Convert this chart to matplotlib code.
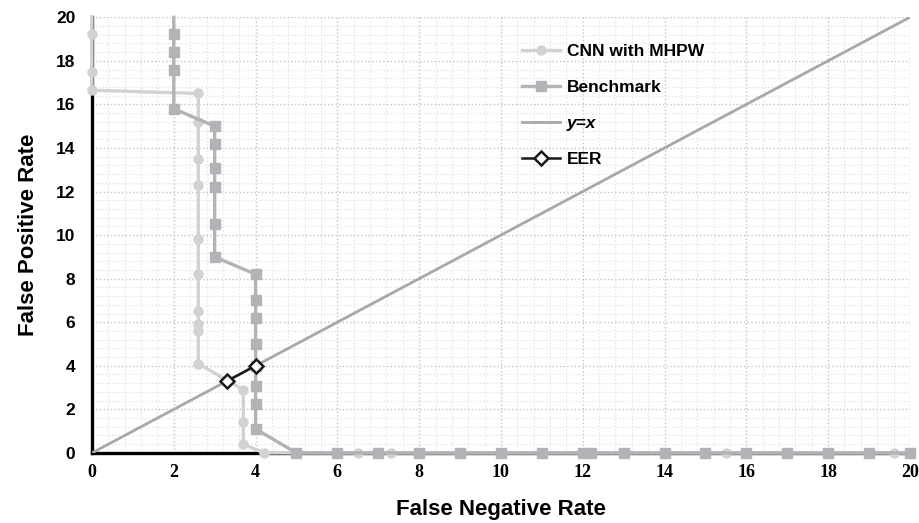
import numpy as np
import matplotlib.pyplot as plt
from matplotlib.ticker import MultipleLocator

plt.rcParams['font.family'] = ['Liberation Sans', 'DejaVu Sans']
plt.rcParams['font.weight'] = 'bold'

# CNN with MHPW (false negative rate, false positive rate)
cnn_fnr = [0, 0, 0, 0, 2.6, 2.6, 2.6, 2.6, 2.6, 2.6, 2.6, 2.6, 2.6, 2.6,
           3.7, 3.7, 3.7, 4.2, 6.5, 7.3, 15.5, 19.6, 20]
cnn_fpr = [20, 19.25, 17.5, 16.65, 16.5, 15.2, 13.5, 12.3, 9.8, 8.2, 6.5, 5.9, 5.6, 4.1,
           2.9, 1.4, 0.4, 0, 0, 0, 0, 0, 0]
cnn_marks = list(range(1, 22))

# Benchmark
bm_fnr = [2, 2, 2, 2, 2, 3, 3, 3, 3, 3, 3, 4, 4, 4, 4, 4, 4, 4, 4,
          5, 6, 7, 8, 9, 10, 11, 12, 12.2, 13, 14, 15, 16, 17, 18, 19, 20]
bm_fpr = [20, 19.25, 18.4, 17.6, 15.8, 15.0, 14.2, 13.1, 12.2, 10.5, 9.0, 8.2, 7.0, 6.2, 5.0, 4.0, 3.05, 2.25, 1.1,
          0, 0, 0, 0, 0, 0, 0, 0, 0, 0, 0, 0, 0, 0, 0, 0, 0]
bm_marks = list(range(1, len(bm_fnr)))

# y = x reference
diag = [0, 20]

# Equal error rate points
eer_fnr = [3.3, 4.0]
eer_fpr = [3.3, 4.0]

fig = plt.figure(figsize=(9.2, 5.23), dpi=100)
ax = fig.add_axes([0.1, 0.134, 0.889, 0.833])

ax.set_xlim(0, 20)
ax.set_ylim(0, 20)
ax.xaxis.set_major_locator(MultipleLocator(2))
ax.yaxis.set_major_locator(MultipleLocator(2))
ax.xaxis.set_minor_locator(MultipleLocator(0.4))
ax.yaxis.set_minor_locator(MultipleLocator(0.4))
ax.grid(which='major', color='#c4c4c4', linestyle=':', linewidth=1.0)
ax.grid(which='minor', color='#e2e2e2', linestyle=':', linewidth=0.9)
ax.set_axisbelow(True)

for s in ['top', 'right']:
    ax.spines[s].set_visible(False)
for s in ['left', 'bottom']:
    ax.spines[s].set_color('black')
    ax.spines[s].set_linewidth(2.4)
    ax.spines[s].set_zorder(2.5)

ax.tick_params(which='both', length=0)
ax.tick_params(axis='x', pad=8, labelsize=13, labelfontfamily='Liberation Serif')
ax.tick_params(axis='y', pad=12, labelsize=12.5)

ax.plot(diag, diag, color='#a8a8aa', linewidth=2, label='y=x', zorder=3)
ax.plot(cnn_fnr, cnn_fpr, color='#d2d2d4', linewidth=2.4, marker='o', markersize=6.5,
        markevery=cnn_marks, label='CNN with MHPW', clip_on=False, zorder=4)
ax.plot(bm_fnr, bm_fpr, color='#b3b3b7', linewidth=2.4, marker='s', markersize=6.5,
        markevery=bm_marks, label='Benchmark', clip_on=False, zorder=5)
ax.plot(eer_fnr, eer_fpr, color='#1a1a1a', linewidth=1.8, marker='D', markersize=7.5,
        markerfacecolor='white', markeredgecolor='#1a1a1a', markeredgewidth=1.8,
        label='EER', zorder=6)

handles, labels = ax.get_legend_handles_labels()
order = [1, 2, 0, 3]
leg = ax.legend([handles[i] for i in order], [labels[i] for i in order],
                loc='upper left', bbox_to_anchor=(0.507, 0.975), frameon=False,
                labelspacing=1.2, handlelength=2.2, handletextpad=0.35,
                prop={'weight': 'bold', 'size': 12.5})
for t in leg.get_texts():
    if t.get_text() == 'y=x':
        t.set_fontstyle('italic')

ax.set_xlabel('False Negative Rate', fontsize=16, fontweight='bold', labelpad=13)
ax.set_ylabel('False Positive Rate', fontsize=16, fontweight='bold', labelpad=12)

fig.savefig('out.png', dpi=100)
